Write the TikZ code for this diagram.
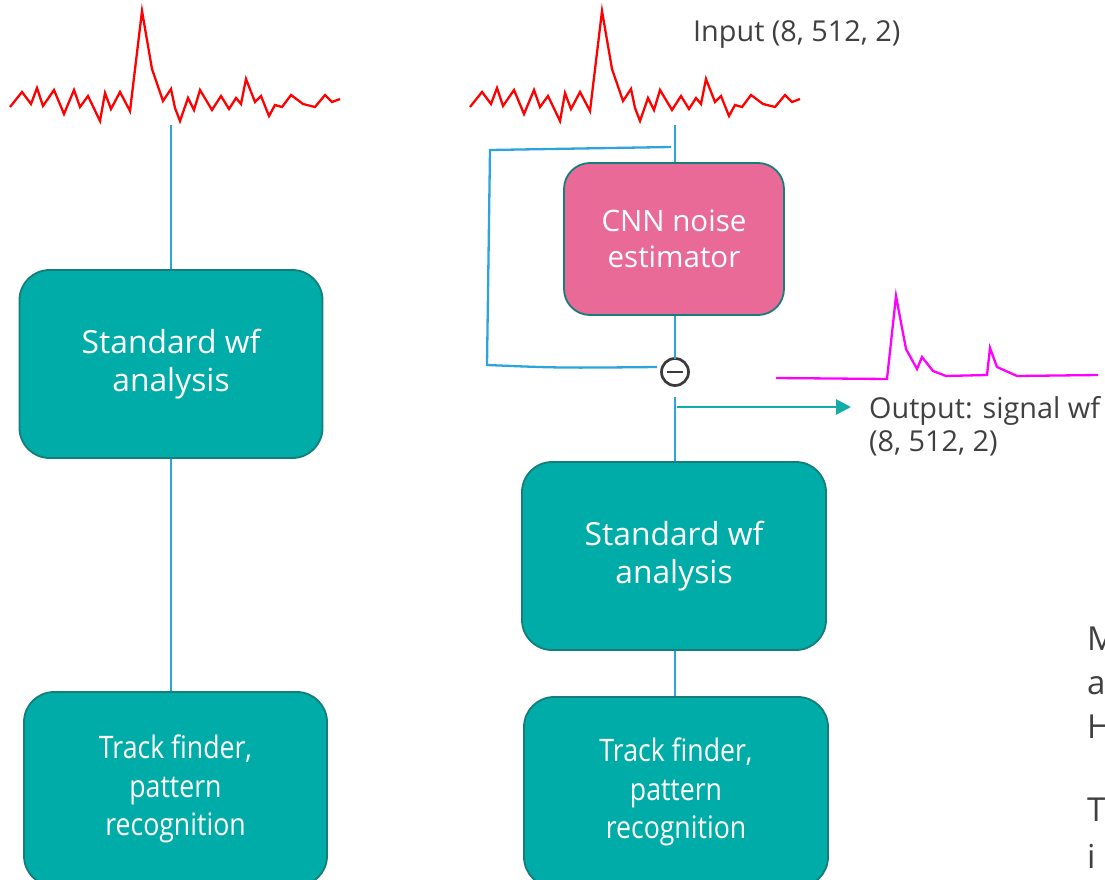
\documentclass[tikz,border=0pt]{standalone}
\usepackage{fontspec}
\setmainfont{Open Sans}
\newfontfamily\condfont[FakeStretch=0.86]{Open Sans}
\usetikzlibrary{arrows.meta}
\definecolor{boxteal}{RGB}{0,172,168}
\definecolor{boxedge}{RGB}{22,126,122}
\definecolor{cnnpink}{RGB}{233,106,150}
\definecolor{linkblue}{RGB}{46,164,220}
\definecolor{arrteal}{RGB}{18,173,166}
\definecolor{txtgray}{RGB}{64,64,64}
\definecolor{sigmag}{RGB}{255,0,255}
\tikzset{
  procbox/.style={draw=boxedge, line width=1.8pt, fill=boxteal, rounded corners=30pt,
    text=white, align=center, inner sep=0pt, font=\fontsize{31.8}{38}\selectfont},
  trackbox/.style={procbox, font=\condfont\fontsize{31}{38.5}\selectfont},
  cnnbox/.style={procbox, fill=cnnpink, rounded corners=26pt, font=\fontsize{29.5}{36}\selectfont},
  link/.style={draw=linkblue, line width=2.6pt},
  outarrow/.style={draw=arrteal, line width=2.8pt, -{Triangle[length=15pt,width=15pt]}},
  noisy/.style={draw=red, line width=2.3pt, line join=miter},
  clean/.style={draw=sigmag, line width=2.3pt},
  lbl/.style={text=txtgray, inner sep=0pt, font=\fontsize{28.8}{33}\selectfont},
  sidetxt/.style={text=txtgray, inner sep=0pt, font=\fontsize{33}{44}\selectfont},
}
\begin{document}
\begin{tikzpicture}[x=1pt,y=-1pt]
\useasboundingbox (0,0) rectangle (1105,880);
% noisy input waveforms
\foreach \dx/\nm in {0/wfL,460/wfR}{
\draw[noisy, xshift=\dx pt] plot coordinates {(10,107) (22,92) (31,104) (37,88) (43,106) (54,90) (64,114) (74,90) (80,107) (88,96) (100,121) (105,93) (111,109) (120,92) (130,111) (142,11) (152,69) (163,101) (171,89) (175,108) (180,121) (188,98) (194,110) (200,90) (212,110) (221,96) (229,109) (236,98) (241,104) (246,79) (255,102) (261,96) (269,116) (275,105) (282,107) (291,95) (303,104) (315,107) (325,95) (332,102) (340,99)};
}
\node[lbl, anchor=base west] (inlbl) at (693,42) {Input (8, 512, 2)};
% left chain
\coordinate (wfLbot) at (171,125);
\node[procbox, minimum width=303pt, minimum height=188pt] (stdL) at (171,364) {Standard wf\\analysis};
\node[trackbox, minimum width=303pt, minimum height=194pt] (trkL) at (175.5,789) {Track finder,\\pattern\\recognition};
\draw[link] (wfLbot) -- (wfLbot |- stdL.north);
\draw[link] (stdL.south) -- (stdL.south |- trkL.north);
% right chain
\coordinate (wfRbot) at (675,125);
\node[cnnbox, minimum width=220pt, minimum height=152pt] (cnn) at (674,239) {CNN noise\\estimator};
\node[circle, draw=txtgray!90!black, line width=2.7pt, minimum size=27pt, inner sep=0pt] (minus) at (675,372) {};
\draw[txtgray!90!black, line width=2.8pt] ([xshift=-8pt]minus.center) -- ([xshift=8pt]minus.center);
\coordinate (mbot) at (675,397);
\node[procbox, minimum width=304pt, minimum height=188pt] (stdR) at (674,556) {Standard wf\\analysis};
\node[trackbox, minimum width=304pt, minimum height=190pt] (trkR) at (676,792) {Track finder,\\pattern\\recognition};
\draw[link] (wfRbot) -- (cnn.north -| wfRbot);
\draw[link] (cnn.south -| wfRbot) -- ([yshift=-1.5pt]minus.north);
\draw[link] (mbot) -- (mbot |- stdR.north);
\draw[link] (stdR.south -| 675,0) -- (trkR.north -| 675,0);
% bypass bracket
\coordinate (bA) at (671,147);
\coordinate (bB) at (490,150);
\coordinate (bC) at (487,365);
\coordinate (bD) at (657,367);
\draw[link, line width=2.3pt] (bA) -- (bB) -- (bC) .. controls (560,368) .. (bD);
% output arrow
\coordinate (arrS) at (677,407);
\coordinate (arrE) at (851,407);
\draw[outarrow] (arrS) -- (arrE);
\node[lbl, anchor=base west, align=left] (outlbl) at (869,451) {Output: signal wf\\(8, 512, 2)};
% clean output waveform
\draw[clean] plot coordinates {(776,378) (887,379) (896,296) (906,349) (917,369) (922,357) (933,371) (946,376) (987,375) (990,348) (997,367) (1017,376) (1098,375)};
% side text, cut by the right edge as in the reference
\node[sidetxt, anchor=base west] (sM) at (1087,650) {M};
\node[sidetxt, anchor=base west] (sa) at (1087,694) {a};
\node[sidetxt, anchor=base west] (sH) at (1087,738) {H};
\node[sidetxt, anchor=base west] (sT) at (1087,821) {T};
\node[sidetxt, anchor=base west] (si) at (1087,868) {i};
\end{tikzpicture}
\end{document}
